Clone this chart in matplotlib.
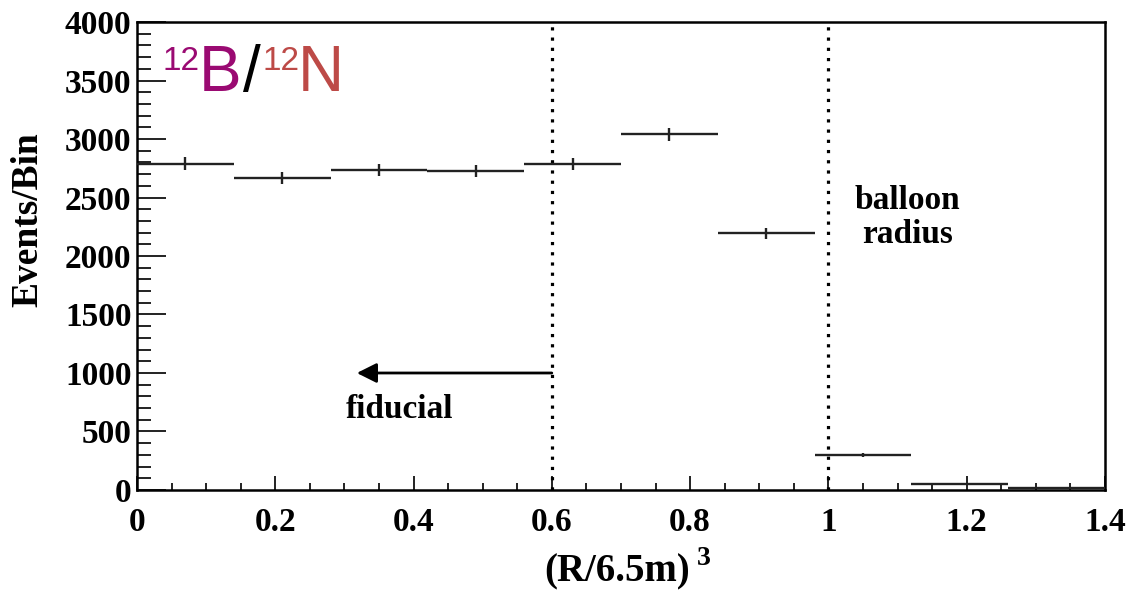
"""Histogram of event radius with fiducial and balloon markers."""
import matplotlib.pyplot as plt
import numpy as np
from matplotlib.ticker import MultipleLocator

# data
bin_edges = [0.0, 0.14, 0.28, 0.42, 0.56, 0.70, 0.84, 0.98, 1.12, 1.26, 1.40]
counts = [2790, 2665, 2735, 2725, 2785, 3040, 2195, 295, 55, 15]
x_ticks = [0, 0.2, 0.4, 0.6, 0.8, 1.0, 1.2, 1.4]
x_labels = ['0', '0.2', '0.4', '0.6', '0.8', '1', '1.2', '1.4']
y_ticks = [0, 500, 1000, 1500, 2000, 2500, 3000, 3500, 4000]
fiducial_cut = 0.6
balloon_cut = 1.0

serif = ['Liberation Serif', 'DejaVu Serif']

fig = plt.figure(figsize=(11.46, 5.9), dpi=100)
ax = fig.add_axes([0.1195, 0.1695, 0.8447, 0.7932])

edges = np.array(bin_edges)
centers = (edges[:-1] + edges[1:]) / 2
half = (edges[1:] - edges[:-1]) / 2
vals = np.array(counts, dtype=float)
ax.errorbar(centers, vals, xerr=half, yerr=np.sqrt(vals), fmt='none',
            ecolor='#222222', elinewidth=1.7, capsize=0, zorder=3)

# cut lines
for xc in (fiducial_cut, balloon_cut):
    ax.plot([xc, xc], [0, 4000], color='black', lw=2.3,
            linestyle=(0, (1.0, 2.2)), zorder=2)

ax.annotate('', xy=(0.318, 1000), xytext=(fiducial_cut, 1000),
            arrowprops=dict(arrowstyle='-|>', color='black', lw=2.0,
                            mutation_scale=30, shrinkA=0, shrinkB=0))
ax.text(0.38, 690, 'fiducial', family=serif, weight='bold', fontsize=24,
        ha='center', va='center')
ax.text(1.114, 2330, 'balloon\nradius', family=serif, weight='bold',
        fontsize=24, ha='center', va='center', linespacing=1.1)

# isotope label
tr = ax.transAxes
purple = '#9A0A72'
red = '#BD4A47'
ax.text(0.026, 0.898, '12', transform=tr, fontsize=24, color=purple,
        family='Liberation Sans', va='baseline')
ax.text(0.0635, 0.853, 'B', transform=tr, fontsize=46, color=purple,
        family='Liberation Sans', va='baseline')
ax.text(0.1095, 0.853, '/', transform=tr, fontsize=46, color='black',
        family='Liberation Sans', va='baseline')
ax.text(0.1295, 0.898, '12', transform=tr, fontsize=24, color=red,
        family='Liberation Sans', va='baseline')
ax.text(0.1665, 0.853, 'N', transform=tr, fontsize=46, color=red,
        family='Liberation Sans', va='baseline')

ax.set_xlim(0, 1.4)
ax.set_ylim(0, 4000)
ax.set_xticks(x_ticks)
ax.set_xticklabels(x_labels)
ax.set_yticks(y_ticks)
ax.xaxis.set_minor_locator(MultipleLocator(0.05))
ax.yaxis.set_minor_locator(MultipleLocator(100))
ax.tick_params(which='both', direction='in', top=False, right=False,
               width=1.4, color='#222222')
ax.tick_params(axis='x', which='major', length=10, pad=12)
ax.tick_params(axis='x', which='minor', length=5)
ax.tick_params(axis='y', which='major', length=21, pad=4)
ax.tick_params(axis='y', which='minor', length=10)
for lab in ax.get_xticklabels() + ax.get_yticklabels():
    lab.set_family(serif)
    lab.set_fontweight('bold')
    lab.set_fontsize(24)

for sp in ax.spines.values():
    sp.set_linewidth(1.8)

ax.set_ylabel('Events/Bin', family=serif, weight='bold', fontsize=27,
              va='center')
ax.yaxis.set_label_coords(-0.113, 0.577)
ax.set_xlabel('(R/6.5m)', family=serif, weight='bold', fontsize=28,
              va='center')
ax.xaxis.set_label_coords(0.496, -0.175)
ax.text(0.5785, -0.147, '3', transform=tr, family=serif, weight='bold',
        fontsize=20, ha='left', va='center')

plt.savefig('out.png', dpi=100)
